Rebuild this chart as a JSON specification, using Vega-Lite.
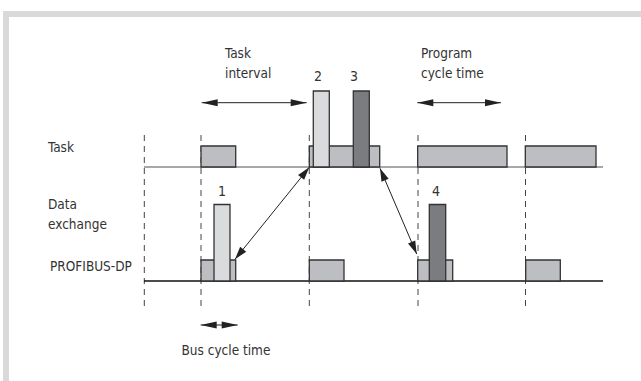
{
  "$schema": "https://vega.github.io/schema/vega-lite/v6.json",
  "width": 641,
  "height": 381,
  "autosize": {"type": "none"},
  "padding": 0,
  "background": "white",
  "config": {"view": {"stroke": null}},
  "datasets": {
    "frame": [
      {"part": "outer", "x": 3, "x2": 641, "y": 11, "y2": 381},
      {"part": "inner", "x": 9, "x2": 641, "y": 17, "y2": 381}
    ],
    "vlines": [
      {"x": 144.3, "y": 135, "y2": 308},
      {"x": 201, "y": 135, "y2": 308},
      {"x": 309.3, "y": 135, "y2": 308},
      {"x": 418, "y": 135, "y2": 308},
      {"x": 525.5, "y": 135, "y2": 308}
    ],
    "baselines": [
      {"track": "Task", "x": 144, "x2": 603, "y": 167},
      {"track": "PROFIBUS-DP", "x": 144, "x2": 603, "y": 281}
    ],
    "boxes": [
      {"kind": "box", "x": 201, "x2": 235.7, "y": 146, "y2": 167},
      {"kind": "box", "x": 309.3, "x2": 379.7, "y": 146, "y2": 167},
      {"kind": "box", "x": 417.7, "x2": 507, "y": 146, "y2": 167},
      {"kind": "box", "x": 525.3, "x2": 596, "y": 146, "y2": 167},
      {"kind": "box", "x": 201, "x2": 235.7, "y": 260, "y2": 281},
      {"kind": "box", "x": 309.3, "x2": 344, "y": 260, "y2": 281},
      {"kind": "box", "x": 417.7, "x2": 452.7, "y": 260, "y2": 281},
      {"kind": "box", "x": 525.7, "x2": 560.3, "y": 260, "y2": 281},
      {"kind": "light", "x": 313.3, "x2": 329.3, "y": 91, "y2": 167},
      {"kind": "dark", "x": 353.3, "x2": 369.3, "y": 91, "y2": 167},
      {"kind": "light", "x": 214, "x2": 230, "y": 204.5, "y2": 281},
      {"kind": "dark", "x": 429.3, "x2": 445.7, "y": 204.5, "y2": 281}
    ],
    "arrows": [
      {"name": "Task interval", "x": 201.7, "x2": 306.7, "y": 102.7, "y2": 102.7},
      {"name": "Program cycle time", "x": 417.3, "x2": 501, "y": 102.7, "y2": 102.7},
      {"name": "Bus cycle time", "x": 200.7, "x2": 237.7, "y": 325, "y2": 325},
      {"name": "left diagonal", "x": 309.3, "x2": 235, "y": 167.3, "y2": 259.3},
      {"name": "right diagonal", "x": 380, "x2": 416.7, "y": 168.3, "y2": 254}
    ],
    "heads": [
      {"kind": "flat", "x": 201.7, "y": 102.7, "angle": 270},
      {"kind": "flat", "x": 306.7, "y": 102.7, "angle": 90},
      {"kind": "flat", "x": 417.3, "y": 102.7, "angle": 270},
      {"kind": "flat", "x": 501, "y": 102.7, "angle": 90},
      {"kind": "flat", "x": 200.7, "y": 325, "angle": 270},
      {"kind": "flat", "x": 237.7, "y": 325, "angle": 90},
      {"kind": "diag", "x": 309.3, "y": 167.3, "angle": 39},
      {"kind": "diag", "x": 235, "y": 259.3, "angle": 219},
      {"kind": "diag", "x": 380, "y": 168.3, "angle": 337},
      {"kind": "diag", "x": 416.7, "y": 254, "angle": 157}
    ],
    "labels": [
      {"text": "Task", "x": 48, "y": 148},
      {"text": "Data", "x": 48, "y": 205},
      {"text": "exchange", "x": 48, "y": 225},
      {"text": "PROFIBUS-DP", "x": 50, "y": 267},
      {"text": "Task", "x": 225, "y": 54},
      {"text": "interval", "x": 225, "y": 74},
      {"text": "Program", "x": 421, "y": 54},
      {"text": "cycle time", "x": 421, "y": 74},
      {"text": "Bus cycle time", "x": 181.5, "y": 351}
    ],
    "numbers": [
      {"text": "1", "x": 222, "y": 192},
      {"text": "2", "x": 318, "y": 77},
      {"text": "3", "x": 354, "y": 77},
      {"text": "4", "x": 436, "y": 192}
    ]
  },
  "encoding": {
    "x": {"field": "x", "type": "quantitative", "axis": null, "scale": {"domain": [0, 641], "nice": false, "zero": false}},
    "y": {"field": "y", "type": "quantitative", "axis": null, "scale": {"domain": [0, 381], "nice": false, "zero": false, "reverse": true}}
  },
  "layer": [
    {
      "data": {"name": "frame"},
      "transform": [{"filter": "datum.part == 'outer'"}],
      "mark": {"type": "rect", "fill": "#d9d9d9"},
      "encoding": {"x2": {"field": "x2"}, "y2": {"field": "y2"}}
    },
    {
      "data": {"name": "frame"},
      "transform": [{"filter": "datum.part == 'inner'"}],
      "mark": {"type": "rect", "fill": "#ffffff"},
      "encoding": {"x2": {"field": "x2"}, "y2": {"field": "y2"}}
    },
    {
      "data": {"name": "vlines"},
      "mark": {"type": "rule", "color": "#444444", "strokeWidth": 1, "strokeDash": [6, 5]},
      "encoding": {"y2": {"field": "y2"}}
    },
    {
      "data": {"name": "baselines"},
      "transform": [{"filter": "datum.track == 'Task'"}],
      "mark": {"type": "rule", "color": "#8a8a8a", "strokeWidth": 1.5},
      "encoding": {"x2": {"field": "x2"}}
    },
    {
      "data": {"name": "baselines"},
      "transform": [{"filter": "datum.track == 'PROFIBUS-DP'"}],
      "mark": {"type": "rule", "color": "#111111", "strokeWidth": 1.5},
      "encoding": {"x2": {"field": "x2"}}
    },
    {
      "data": {"name": "boxes"},
      "transform": [{"filter": "datum.kind == 'box'"}],
      "mark": {"type": "rect", "fill": "#bdbec2", "stroke": "#333333", "strokeWidth": 1.3},
      "encoding": {"x2": {"field": "x2"}, "y2": {"field": "y2"}}
    },
    {
      "data": {"name": "boxes"},
      "transform": [{"filter": "datum.kind == 'light'"}],
      "mark": {"type": "rect", "fill": "#dadbdd", "stroke": "#333333", "strokeWidth": 1.3},
      "encoding": {"x2": {"field": "x2"}, "y2": {"field": "y2"}}
    },
    {
      "data": {"name": "boxes"},
      "transform": [{"filter": "datum.kind == 'dark'"}],
      "mark": {"type": "rect", "fill": "#7b7c80", "stroke": "#333333", "strokeWidth": 1.3},
      "encoding": {"x2": {"field": "x2"}, "y2": {"field": "y2"}}
    },
    {
      "data": {"name": "arrows"},
      "mark": {"type": "rule", "color": "#222222", "strokeWidth": 1},
      "encoding": {"x2": {"field": "x2"}, "y2": {"field": "y2"}}
    },
    {
      "data": {"name": "heads"},
      "transform": [{"filter": "datum.kind == 'flat'"}],
      "mark": {"type": "point", "shape": "M0,0L-0.22,1L0.22,1Z", "filled": true, "color": "#222222", "size": 1024, "opacity": 1},
      "encoding": {"angle": {"field": "angle", "type": "quantitative", "scale": null}}
    },
    {
      "data": {"name": "heads"},
      "transform": [{"filter": "datum.kind == 'diag'"}],
      "mark": {"type": "point", "shape": "M0,0L-0.3,1L0.3,1Z", "filled": true, "color": "#222222", "size": 676, "opacity": 1},
      "encoding": {"angle": {"field": "angle", "type": "quantitative", "scale": null}}
    },
    {
      "data": {"name": "labels"},
      "mark": {"type": "text", "align": "left", "baseline": "middle", "font": "DejaVu Sans Condensed, sans-serif", "fontSize": 13.5, "color": "#333333"},
      "encoding": {"text": {"field": "text"}}
    },
    {
      "data": {"name": "numbers"},
      "mark": {"type": "text", "align": "center", "baseline": "middle", "font": "DejaVu Sans Condensed, sans-serif", "fontSize": 14, "color": "#333333"},
      "encoding": {"text": {"field": "text"}}
    }
  ]
}
